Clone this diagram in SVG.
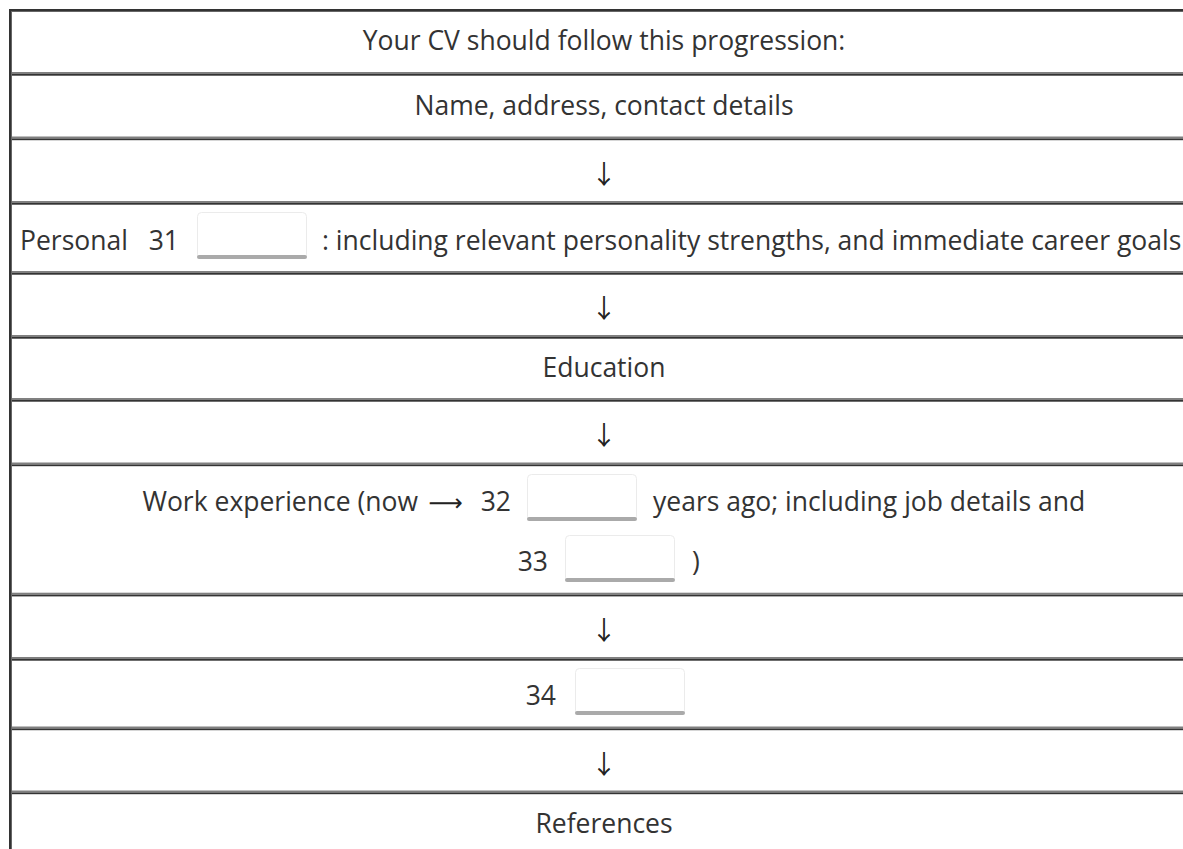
<svg xmlns="http://www.w3.org/2000/svg" width="1183" height="849" viewBox="0 0 1183 849">
<style>
.t{font-family:"Open Sans","Noto Sans","DejaVu Sans",sans-serif;font-size:26.5px;fill:#333}
.m{text-anchor:middle}
.e{text-anchor:end}
.arr{font-family:"Noto Sans CJK SC","DejaVu Sans",sans-serif;font-size:26px;fill:#222;text-anchor:middle}
.sg{fill:#808080}
.sd{fill:#333}
.box{fill:#fff;stroke:#ebebeb;stroke-width:1}
.bb{fill:#aaa}
</style>
<defs>
<g id="sep"><rect x="12" y="-2" width="1171" height="2" class="sg"/><rect x="12" y="0" width="1171" height="1.7" class="sd"/></g>
<g id="inbox"><rect x="0.5" y="0.5" width="109" height="46" rx="4" class="box"/><rect x="0" y="43" width="110" height="4" rx="2" class="bb"/></g>
</defs>
<rect width="1183" height="849" fill="#fff"/>
<g id="frame">
<rect x="9" y="9" width="1174" height="2" fill="#333"/>
<rect x="9" y="11" width="1174" height="1" fill="#666"/>
<rect x="9" y="9" width="2" height="840" fill="#333"/>
<rect x="11" y="11" width="1" height="838" fill="#666"/>
</g>
<g id="connectors">
<use href="#sep" y="74"/>
<use href="#sep" y="138.5"/>
<use href="#sep" y="203"/>
<use href="#sep" y="273"/>
<use href="#sep" y="337"/>
<use href="#sep" y="400"/>
<use href="#sep" y="464.5"/>
<use href="#sep" y="594.7"/>
<use href="#sep" y="659"/>
<use href="#sep" y="728.5"/>
<use href="#sep" y="792.5"/>
<text class="arr" x="604" y="184">↓</text>
<text class="arr" x="604" y="318">↓</text>
<text class="arr" x="604" y="445">↓</text>
<text class="arr" x="604" y="640">↓</text>
<text class="arr" x="604" y="774">↓</text>
</g>
<g id="title"><text class="t m" x="604" y="50">Your CV should follow this progression:</text></g>
<g id="name"><text class="t m" x="604" y="115">Name, address, contact details</text></g>
<g id="personal">
<text class="t" x="20" y="250">Personal</text>
<text class="t e" x="179" y="250">31</text>
<use href="#inbox" x="197" y="212"/>
<text class="t" x="322" y="250">: including relevant personality strengths, and immediate career goals</text>
</g>
<g id="education"><text class="t m" x="604" y="377">Education</text></g>
<g id="work">
<text class="t e" x="418" y="511">Work experience (now</text>
<text x="463" y="511" style="font-family:'DejaVu Sans',sans-serif;font-size:24px;fill:#222;text-anchor:end">⟶</text>
<text class="t e" x="511" y="511">32</text>
<use href="#inbox" x="527" y="474"/>
<text class="t" x="653" y="511">years ago; including job details and</text>
<text class="t e" x="548" y="571">33</text>
<use href="#inbox" x="565" y="535"/>
<text class="t" x="692" y="571">)</text>
</g>
<g id="q34">
<text class="t e" x="556" y="705">34</text>
<use href="#inbox" x="575" y="668"/>
</g>
<g id="references"><text class="t m" x="604" y="833">References</text></g>
</svg>
